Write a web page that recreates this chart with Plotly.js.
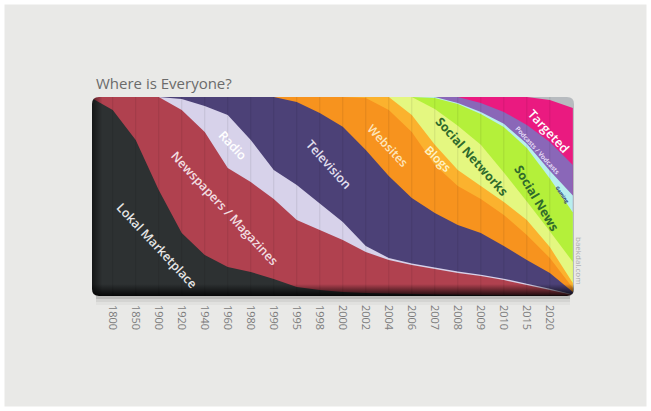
<!DOCTYPE html>
<html><head><meta charset="utf-8">
<script src="https://cdn.plot.ly/plotly-3.0.1.min.js"></script>
<style>html,body{margin:0;padding:0;background:#e9e9e7;}</style>
</head><body><div id="chart" style="width:651px;height:411px;"></div>
<script>
// Category ticks (evenly spaced) and the x index of each data column (-1 and 20 are the edge columns)
const years = ['1800','1850','1900','1920','1940','1960','1980','1990','1995','1998','2000','2002','2004','2006','2007','2008','2009','2010','2015','2020'];
const xIndex = [-1,0,1,2,3,4,5,6,7,8,9,10,11,12,13,14,15,16,17,18,19,20];

// Share of attention (%) per medium, bottom to top
const lokalMarketplace = [100,93.5,78.4,53.3,31.7,20.6,14.6,12.1,8.5,4.5,3.0,2.0,1.5,1.2,1.0,0.8,0.6,0.5,0.4,0.3,0.2,0.1];
const newspapers       = [0,6.5,21.6,46.7,61.8,61.8,49.7,45.2,40.2,33.7,30.2,26.1,20.6,16.9,14.6,12.8,11.0,9.5,7.6,5.2,2.8,0.4];
const radio            = [0,0,0,0,5.5,13.1,26.7,21.1,14.6,17.6,13.3,9.1,3.0,1.0,0.7,0.7,0.7,0.7,0.7,0.7,0.6,0.3];
const television       = [0,0,0,0,1.0,4.5,9.0,21.6,36.7,41.7,45.5,47.8,48.3,41.2,32.9,27.4,23.4,21.0,16.4,11.9,8.0,1.2];
const websites         = [0,0,0,0,0,0,0,0,0,2.5,8.0,15.0,26.1,33.2,33.2,24.1,19.6,17.0,15.6,12.6,7.5,2.0];
const blogs            = [0,0,0,0,0,0,0,0,0,0,0,0,0.5,6.5,8.6,10.2,8.0,6.6,6.5,7.5,5.5,2.5];
const socialNetworks   = [0,0,0,0,0,0,0,0,0,0,0,0,0,0,9.0,18.0,22.2,20.7,14.8,9.3,7.9,10.6];
const socialNews       = [0,0,0,0,0,0,0,0,0,0,0,0,0,0,0,5.5,11.0,15.5,22.9,26.9,26.5,24.9];
const gaming           = [0,0,0,0,0,0,0,0,0,0,0,0,0,0,0,0.5,0.5,1.0,1.6,2.1,4.0,8.5];
const podcasts         = [0,0,0,0,0,0,0,0,0,0,0,0,0,0,0,0,3.0,4.5,6.0,9.4,14.4,15.3];
const targeted         = [0,0,0,0,0,0,0,0,0,0,0,0,0,0,0,0,0,3.0,7.5,14.1,21.1,28.7];

const seriesNames  = ['Lokal Marketplace','Newspapers / Magazines','Radio','Television','Websites','Blogs','Social Networks','Social News','Gaming','Podcasts / Vodcasts','Targeted'];
const seriesValues = [lokalMarketplace,newspapers,radio,television,websites,blogs,socialNetworks,socialNews,gaming,podcasts,targeted];
const seriesColors = ['#2d3132','#b0414f','#d7d2ea','#4c4177','#f7931e','#fbb22e','#e4f780','#b4f03a','#b8eeee','#8a67b8','#ea1a80'];

// plot geometry in pixels
const W = 651, H = 411, L = 92, R = 574, T = 97, B = 296;
const px = (x, y) => ({x: (x - L) / (R - L), y: (B - y) / (B - T)});

// cumulative tops, painted top layer first so lower layers overlap without seams
const cumulative = [];
seriesValues.forEach((vals, i) => {
  cumulative.push(vals.map((v, j) => v + (i ? cumulative[i - 1][j] : 0)));
});
const traces = [];
for (let i = seriesNames.length - 1; i >= 0; i--) {
  traces.push({type: 'scatter', x: xIndex, y: cumulative[i], name: seriesNames[i],
    fill: 'tozeroy', mode: 'none', fillcolor: seriesColors[i], hoverinfo: 'skip', showlegend: false});
}

// inner shading: bottom and left edges
traces.push({type:'scatter', x:[-0.9,20.05,20.05,-0.9], y:[0,0,6,6], fill:'toself', mode:'none',
  fillgradient:{type:'vertical', colorscale:[[0,'rgba(0,0,0,0.85)'],[1,'rgba(0,0,0,0)']]},
  hoverinfo:'skip', showlegend:false});
traces.push({type:'scatter', x:[-0.9,-0.45,-0.45,-0.9], y:[0,0,100,100], fill:'toself', mode:'none',
  fillgradient:{type:'horizontal', colorscale:[[0,'rgba(0,0,0,0.55)'],[1,'rgba(0,0,0,0)']]},
  hoverinfo:'skip', showlegend:false});

const shapes = [];
// page frame and drop shadow under the panel
const f0 = px(0, H), f1 = px(W, 0);
shapes.push({type:'rect', xref:'paper', yref:'paper', x0:f0.x, y0:f0.y, x1:f1.x, y1:f1.y,
  line:{color:'#ffffff', width:9}, fillcolor:'rgba(0,0,0,0)', layer:'above'});
[[3,0.10],[6,0.06],[9,0.03]].forEach(([d,a]) => {
  const a0 = px(L + 4, B + d), a1 = px(R - 4, B - 20);
  shapes.push({type:'rect', xref:'paper', yref:'paper', x0:a0.x, y0:a0.y, x1:a1.x, y1:a1.y,
    line:{width:0}, fillcolor:`rgba(0,0,0,${a})`, layer:'below'});
});
// vertical guide lines at each category
years.forEach((y, i) => {
  shapes.push({type:'line', xref:'x', yref:'paper', x0:i, x1:i, y0:0, y1:1,
    line:{color:'rgba(0,0,0,0.09)', width:1}, layer:'above'});
});
// rounded corners masks
const r = 7, bg = '#e9e9e7';
const corner = (cx, cy, sx, sy) => {
  const c = px(cx, cy), a = px(cx + sx * r, cy), b = px(cx, cy + sy * r);
  return {type:'path', xref:'paper', yref:'paper', layer:'above', line:{width:0}, fillcolor:bg,
    path:`M ${c.x},${c.y} L ${a.x},${a.y} Q ${c.x},${c.y} ${b.x},${b.y} Z`};
};
shapes.push(corner(L, T, 1, 1), corner(R, T, -1, 1), corner(L, B, 1, -1), corner(R, B, -1, -1));

const lab = (text, x, y, angle, size, color, weight) => {
  const p = px(x, y);
  return {text, xref:'paper', yref:'paper', x:p.x, y:p.y, xanchor:'center', yanchor:'middle',
    showarrow:false, textangle:angle,
    font:{family:'Open Sans, Lato, sans-serif', size, color, weight: weight || 600}};
};
const annotations = [
  lab('Lokal Marketplace', 157, 245, 47, 12.5, '#e6e6e6'),
  lab('Newspapers / Magazines', 225, 208, 47, 12.5, '#f2dfe2'),
  lab('Radio', 233, 145, 47, 12.5, '#ffffff'),
  lab('Television', 329, 164, 48, 12.5, '#e4e0f0'),
  lab('Websites', 388, 145, 47, 12, '#fde6bd'),
  lab('Blogs', 438, 158, 45, 12, '#fff3c8'),
  lab('Social Networks', 472, 156, 48, 12.5, '#2f6a2c', 700),
  lab('Social News', 537, 198, 59, 12.5, '#2f6a2c', 700),
  lab('Targeted', 549, 131, 47, 12.5, '#ffffff'),
  lab('Podcasts / Vodcasts', 538, 150, 48, 6.5, '#f0e8ff'),
  lab('Gaming', 562, 194, 55, 5, '#2a3a6a', 700),
  lab('baekdal.com', 580, 261, 90, 8, '#aaaaaa', 400)
];

const layout = {
  width: W, height: H,
  margin: {l: L, r: W - R, t: T, b: H - B, pad: 0},
  paper_bgcolor: bg, plot_bgcolor: '#b7bbbf',
  title: {text: 'Where is Everyone?', x: (96) / W, xanchor: 'left', xref: 'container',
    y: 1 - 84 / H, yanchor: 'middle', yref: 'container',
    font: {family: 'Open Sans, sans-serif', size: 15, color: '#6b6b6b'}},
  xaxis: {range: [-0.9, 20.05], tickvals: years.map((y, i) => i), ticktext: years,
    tickangle: 90, showgrid: false, zeroline: false, showline: false, ticks: '',
    ticklabelstandoff: 8, tickfont: {family: 'Open Sans, sans-serif', size: 11, color: '#7c7c7c'},
    fixedrange: true},
  yaxis: {range: [0, 100], visible: false, fixedrange: true},
  shapes, annotations, showlegend: false
};
Plotly.newPlot('chart', traces, layout, {displayModeBar: false, staticPlot: true});
</script></body></html>
